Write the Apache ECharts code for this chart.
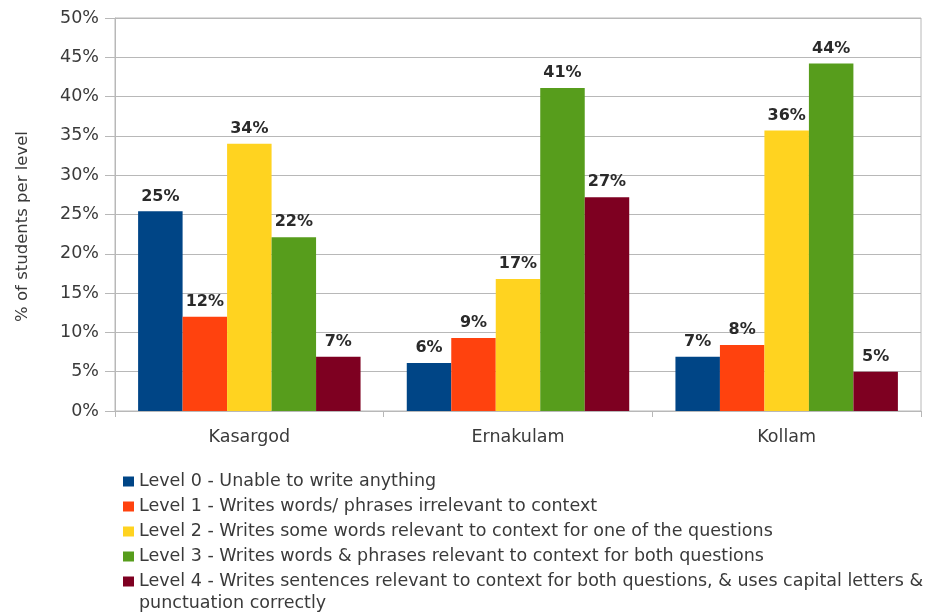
<!DOCTYPE html>
<html>
<head>
<meta charset="UTF-8">
<title>Writing levels by district</title>
<script src="https://cdn.jsdelivr.net/npm/echarts@6/dist/echarts.min.js"></script>
<style>
  html, body { margin: 0; padding: 0; background: #fff; }
  #main { width: 930px; height: 613px; }
</style>
</head>
<body>
<div id="main"></div>
<script>
// districts on the x axis
var districts = ['Kasargod', 'Ernakulam', 'Kollam'];

// legend text, one per level
var levelNames = [
  'Level 0 - Unable to write anything',
  'Level 1 - Writes words/ phrases irrelevant to context',
  'Level 2 - Writes some words relevant to context for one of the questions',
  'Level 3 - Writes words & phrases relevant to context for both questions',
  'Level 4 - Writes sentences relevant to context for both questions, & uses capital letters & punctuation correctly'
];
// the long last legend entry is broken after this part
var level4FirstLine = 'Level 4 - Writes sentences relevant to context for both questions, & uses capital letters &';

// % of students, per level, in district order
var level0 = [25.4, 6.1, 6.9];
var level1 = [12.0, 9.3, 8.4];
var level2 = [34.0, 16.8, 35.7];
var level3 = [22.1, 41.1, 44.2];
var level4 = [6.9, 27.2, 5.0];

var colors = ['#004586', '#ff420e', '#ffd320', '#579d1c', '#7e0021'];
var font = 'DejaVu Sans, sans-serif';

var myChart = echarts.init(document.getElementById('main'));

function makeSeries(i, values) {
  return {
    name: levelNames[i],
    type: 'bar',
    data: values,
    barGap: '0%',
    barCategoryGap: '17.2%',
    itemStyle: { color: colors[i] },
    label: {
      show: true,
      position: 'top',
      distance: 7,
      fontFamily: font,
      fontSize: 16,
      fontWeight: 'bold',
      color: '#2a2a2a',
      formatter: function (p) { return Math.round(p.value) + '%'; }
    }
  };
}

var option = {
  animation: false,
  backgroundColor: '#fff',
  grid: {
    left: 115, right: 9, top: 18, bottom: 202,
    show: true, borderColor: '#b8b8b8', borderWidth: 1
  },
  xAxis: {
    type: 'category',
    data: districts,
    axisLine: { lineStyle: { color: '#b8b8b8' } },
    axisTick: { show: true, length: 6, lineStyle: { color: '#b8b8b8' } },
    axisLabel: { margin: 17, fontFamily: font, fontSize: 17.5, color: '#3a3a3a' }
  },
  yAxis: {
    type: 'value',
    min: 0, max: 50, interval: 5,
    name: '% of students per level',
    nameLocation: 'middle',
    nameGap: 84,
    nameTextStyle: { fontFamily: font, fontSize: 16.5, color: '#3a3a3a', padding: [0, 24, 0, 0] },
    axisLine: { show: true, lineStyle: { color: '#b8b8b8' } },
    axisTick: { show: true, length: 10, lineStyle: { color: '#b8b8b8' } },
    axisLabel: { margin: 16, fontFamily: font, fontSize: 17.5, color: '#3a3a3a', formatter: '{value}%' },
    splitLine: { lineStyle: { color: '#b8b8b8' } }
  },
  legend: {
    orient: 'vertical',
    left: 123,
    top: 471,
    padding: 0,
    itemWidth: 11,
    itemHeight: 10,
    itemGap: 4,
    icon: 'rect',
    textStyle: { fontFamily: font, fontSize: 17.5, color: '#3a3a3a', lineHeight: 21 },
    formatter: function (name) {
      return name === levelNames[4] ? level4FirstLine : name;
    }
  },
  graphic: [{
    type: 'text',
    left: 139,
    top: 594,
    style: {
      text: levelNames[4].slice(level4FirstLine.length + 1),
      font: '17.5px ' + font,
      fill: '#3a3a3a'
    }
  }],
  series: [
    makeSeries(0, level0),
    makeSeries(1, level1),
    makeSeries(2, level2),
    makeSeries(3, level3),
    makeSeries(4, level4)
  ]
};

myChart.setOption(option);
</script>
</body>
</html>
